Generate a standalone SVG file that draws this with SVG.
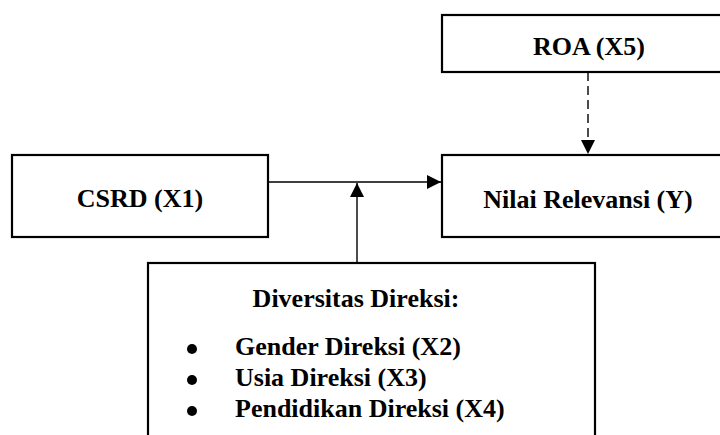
<svg xmlns="http://www.w3.org/2000/svg" width="720" height="435" viewBox="0 0 720 435">
<style>
.box{fill:#fff;stroke:#000;stroke-width:2.2}
.lbl{font-family:"Liberation Serif","Times New Roman",serif;font-weight:bold;font-size:26px;fill:#000}
.mid{text-anchor:middle}
.bul{fill:#000}
.con{fill:none;stroke:#000;stroke-width:1.4}
.dash{stroke-dasharray:9,5}
</style>
<defs>
<marker id="ah" markerWidth="14" markerHeight="14" refX="14" refY="7" orient="auto" markerUnits="userSpaceOnUse">
<path d="M0,0 L14,7 L0,14 Z" fill="#000"/>
</marker>
</defs>
<g id="connectors">
<line class="con" x1="268" y1="182" x2="441" y2="182" marker-end="url(#ah)"/>
<line class="con" x1="357" y1="263" x2="357" y2="183" marker-end="url(#ah)"/>
<line class="con dash" x1="588" y1="72" x2="588" y2="154" marker-end="url(#ah)"/>
</g>
<g id="csrd">
<rect class="box" x="12" y="155" width="256" height="82"/>
<text class="lbl mid" x="140" y="207">CSRD (X1)</text>
</g>
<g id="roa">
<rect class="box" x="442" y="15" width="294" height="57"/>
<text class="lbl mid" x="589" y="55">ROA (X5)</text>
</g>
<g id="nilai">
<rect class="box" x="442" y="155" width="294" height="82"/>
<text class="lbl mid" x="588" y="208">Nilai Relevansi (Y)</text>
</g>
<g id="diversitas">
<rect class="box" x="148" y="263" width="447" height="190"/>
<text class="lbl mid" x="356" y="307">Diversitas Direksi:</text>
<circle class="bul" cx="192" cy="349" r="5"/>
<text class="lbl" x="235" y="355">Gender Direksi (X2)</text>
<circle class="bul" cx="192" cy="380" r="5"/>
<text class="lbl" x="235" y="386">Usia Direksi (X3)</text>
<circle class="bul" cx="192" cy="411" r="5"/>
<text class="lbl" x="235" y="417">Pendidikan Direksi (X4)</text>
</g>
</svg>
